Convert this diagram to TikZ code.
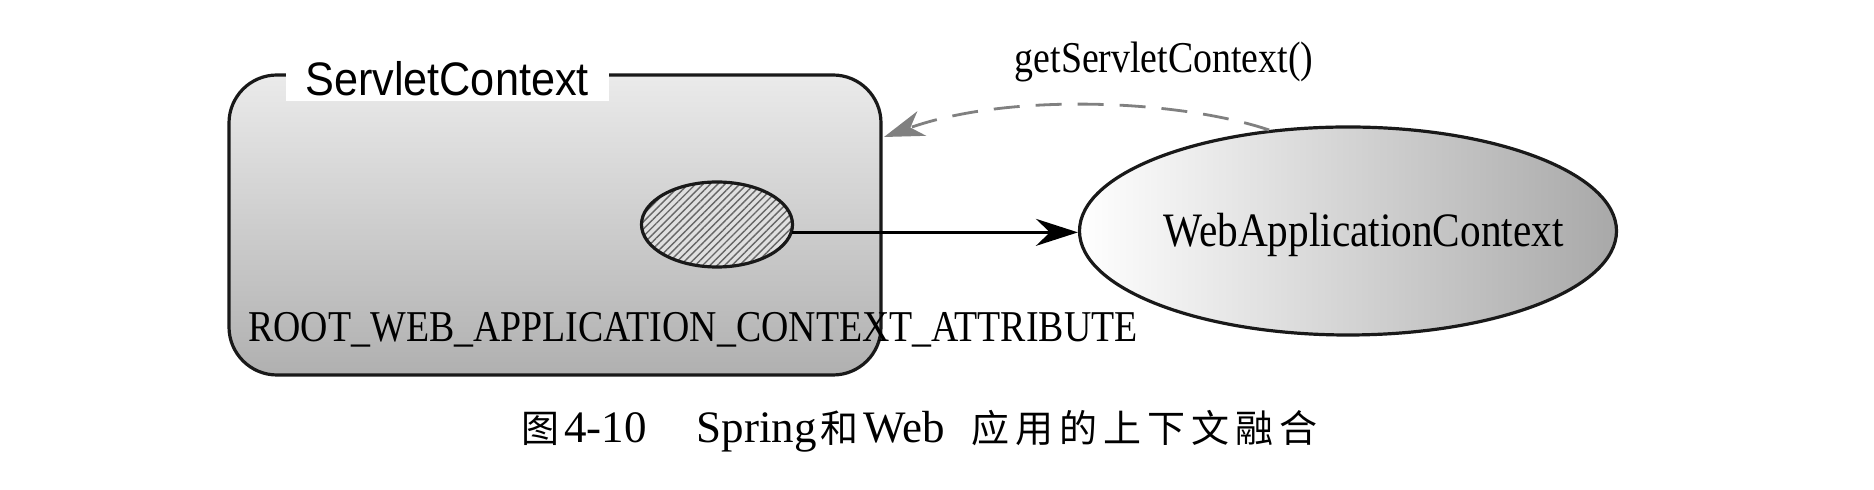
\documentclass[tikz,border=0pt]{standalone}
\usepackage{fontspec}
\setmainfont[FakeStretch=0.86]{Liberation Serif}
\newfontfamily\sansf[FakeStretch=0.92]{Liberation Sans}
\newfontfamily\capfont{Liberation Serif}
\newfontfamily\cjk{Noto Sans CJK SC}
\usetikzlibrary{shapes.geometric,patterns.meta,arrows.meta}
\newcommand\capzh[1]{{\cjk\fontsize{19}{19}\selectfont #1}}
\begin{document}
\begin{tikzpicture}[x=0.5pt,y=-0.5pt,
  border/.style={line width=1.6pt, draw=black!90},
  lbl/.style={inner sep=0pt, font=\fontsize{22}{22}\selectfont},
  solidarrow/.style={line width=1.4pt, -{Stealth[length=21pt,width=13.5pt,inset=7pt]}},
  dasharrow/.style={line width=1.4pt, draw=black!50, dash pattern=on 13pt off 8pt,
    -{Stealth[length=20pt,width=13pt,inset=6pt,fill=black!50]}},
]
\useasboundingbox (0,0) rectangle (1874,490);
\fill[white] (0,0) rectangle (1874,490);

% ServletContext box
\node[border, rectangle, rounded corners=24pt, minimum width=326pt, minimum height=150pt,
  top color=black!8, bottom color=black!31, inner sep=0pt] (sc) at (555,225) {};
\node[fill=white, minimum width=161.5pt, minimum height=22pt, inner sep=0pt,
  font=\sansf\fontsize{23.5}{23.5}\selectfont] (title) at (447,79) {ServletContext};

% hatched attribute ellipse
\node[ellipse, border, minimum width=75.5pt, minimum height=42.5pt, inner sep=0pt,
  preaction={fill=black!12}, pattern={Lines[angle=45,distance=2.6pt,line width=0.7pt]},
  pattern color=black!60] (attr) at (717,224.5) {};

% WebApplicationContext ellipse
\node[ellipse, border, minimum width=268.5pt, minimum height=104pt, inner sep=0pt,
  left color=white, right color=black!34] (web) at (1348,231) {};
\node[lbl, anchor=base, font=\fontsize{24}{24}\selectfont] (webtext) at (1363.5,247) {WebApplicationContext};

% root attribute label
\node[lbl, anchor=base west] (root) at (248,342) {ROOT\_WEB\_APPLICATION\_CONTEXT\_ATTRIBUTE};

% connectors
\draw[solidarrow] (attr.-6) -- (attr.-6 -| web.west);
\coordinate (cin) at (884,137);
\draw[dasharrow] (web.128) .. controls (1180,100) and (1010,92) .. (cin);
\node[lbl] (gsc) at (1164,62) {getServletContext()};

% caption
\node[anchor=base west, inner sep=0pt, font=\capfont\fontsize{22.5}{22.5}\selectfont] (cap) at (521,443)
  {\capzh{图}\hspace{2.5pt}4-10\hspace{25pt}Spring\hspace{2pt}\capzh{和}\hspace{2.5pt}Web\hspace{13pt}\capzh{应}\hspace{3pt}\capzh{用}\hspace{3pt}\capzh{的}\hspace{3pt}\capzh{上}\hspace{3pt}\capzh{下}\hspace{3pt}\capzh{文}\hspace{3pt}\capzh{融}\hspace{3pt}\capzh{合}};
\end{tikzpicture}
\end{document}
